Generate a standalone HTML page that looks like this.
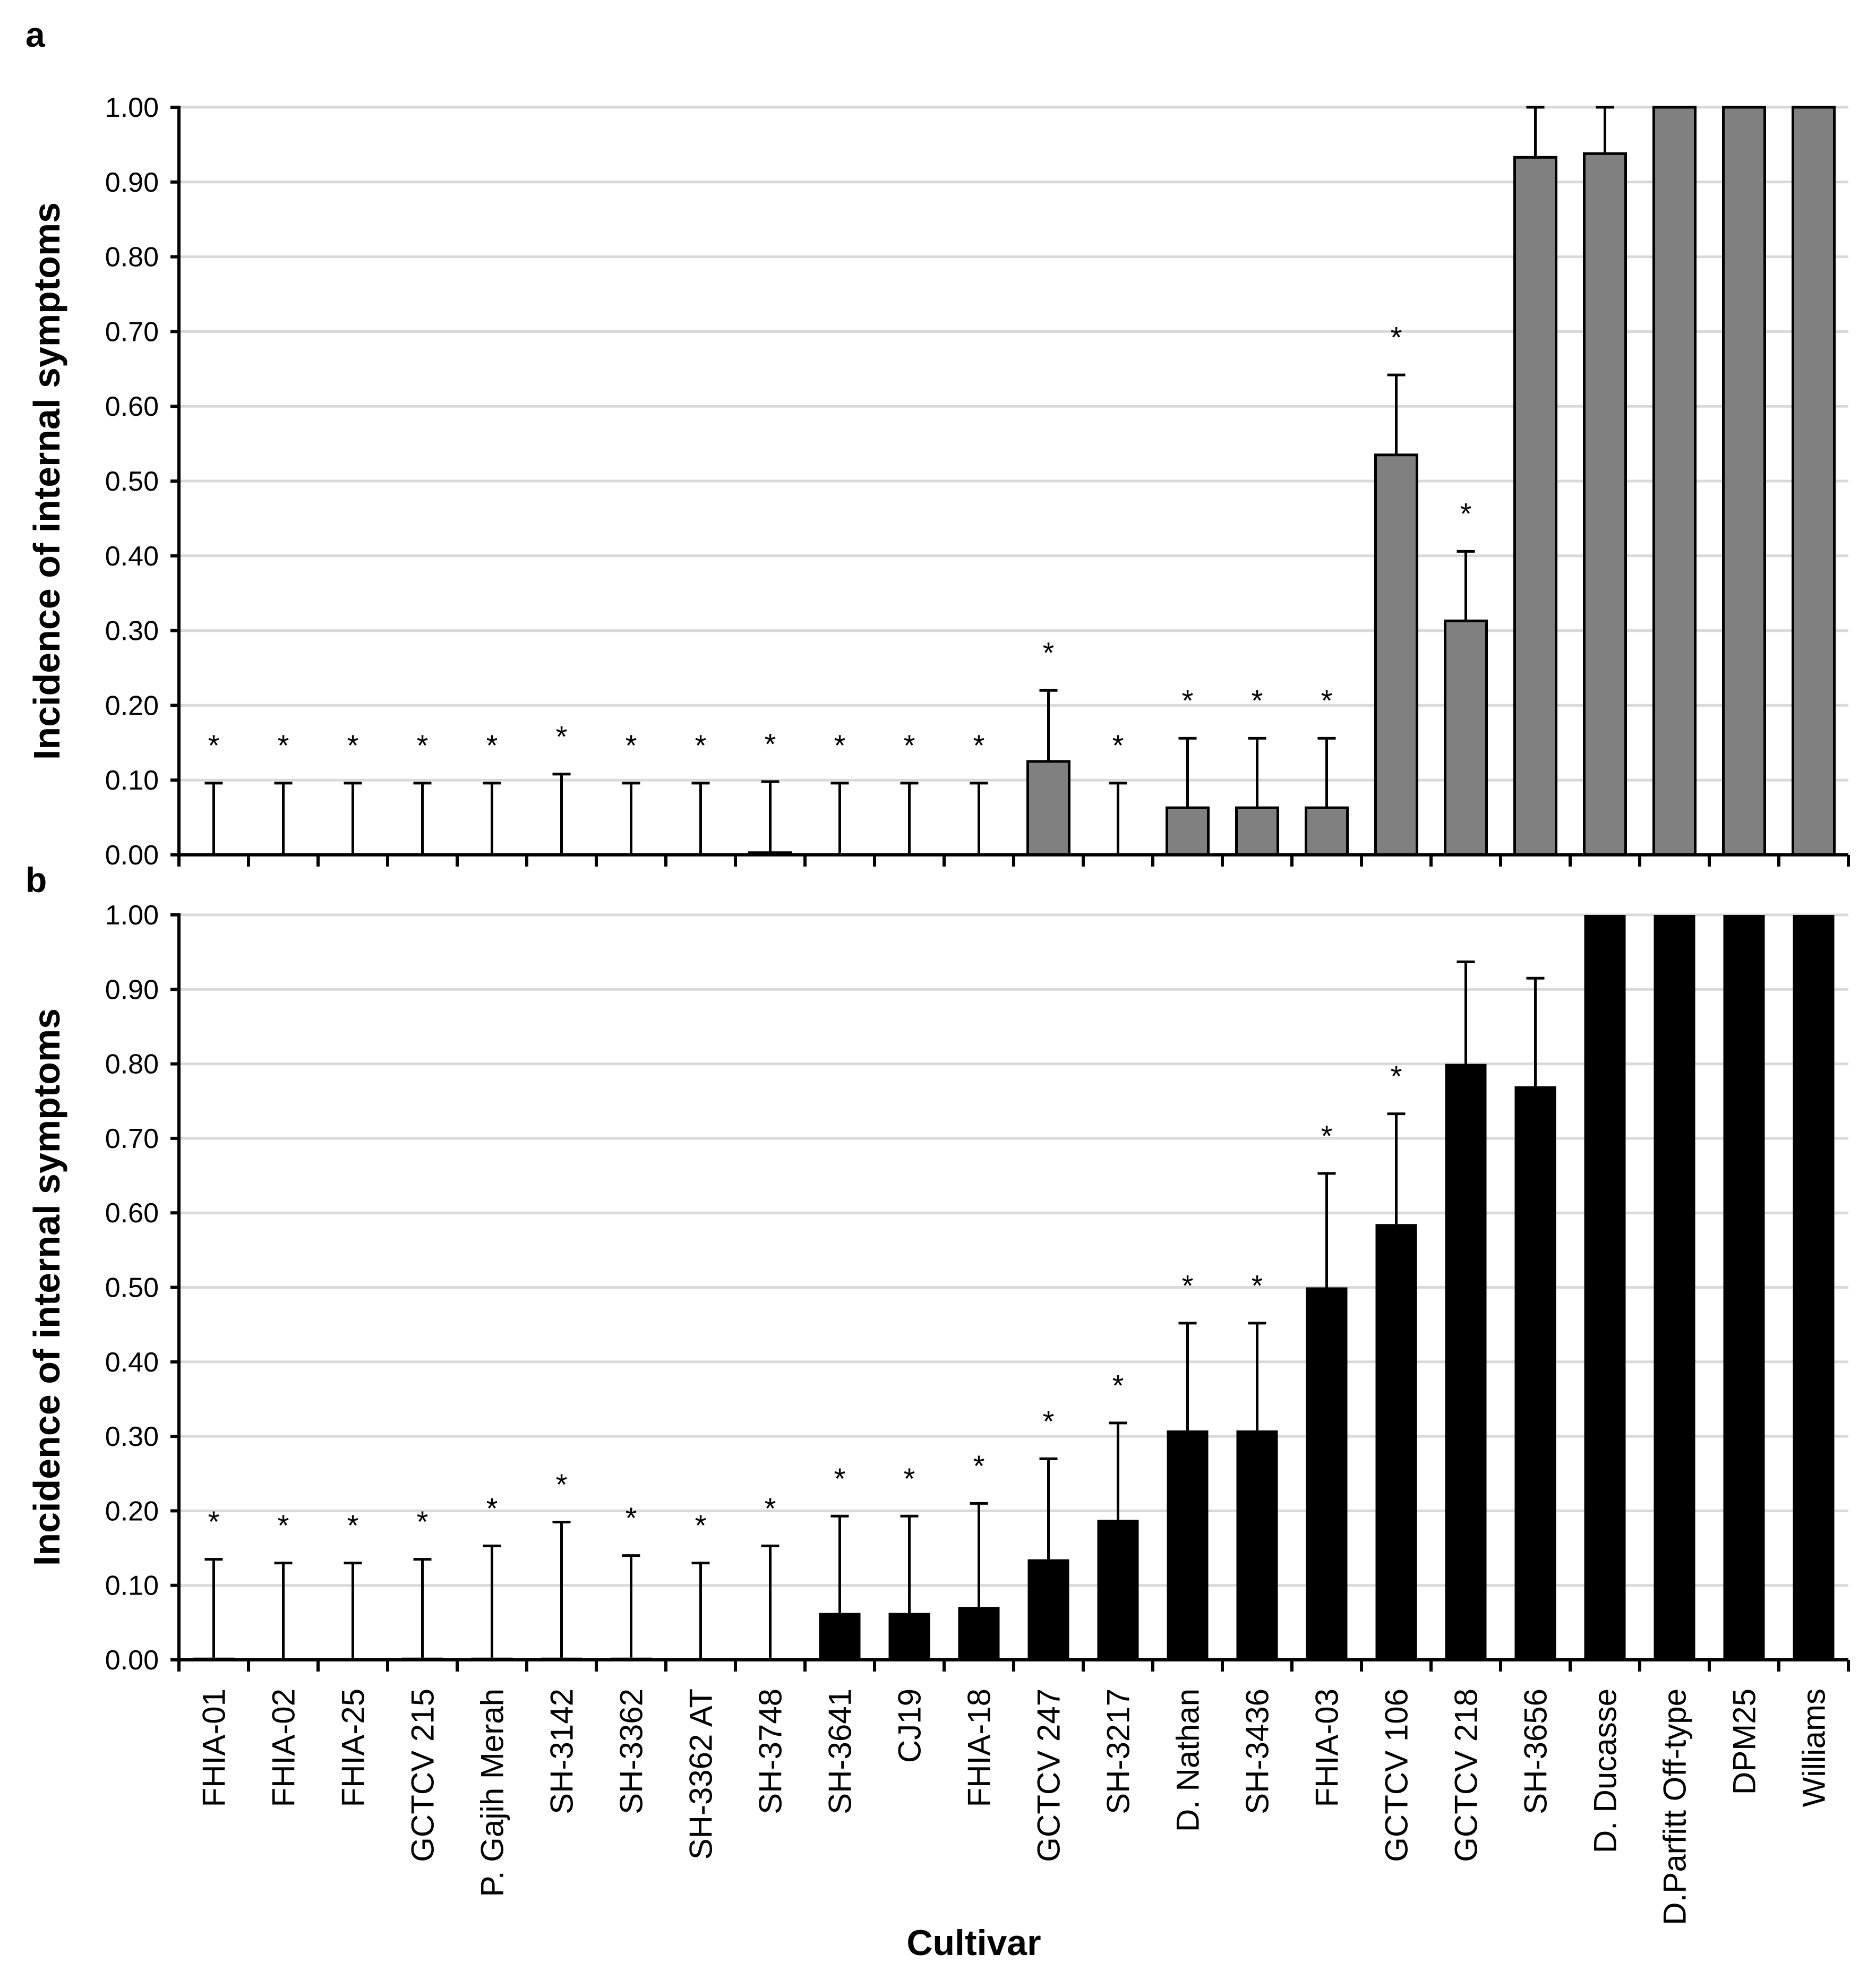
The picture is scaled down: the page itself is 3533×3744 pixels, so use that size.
<!DOCTYPE html>
<html><head><meta charset="utf-8"><style>
html,body{margin:0;padding:0;background:#fff}
svg{display:block}
text{font-family:"Liberation Sans",sans-serif}
</style></head><body>
<svg id="fig" width="3533" height="3744" viewBox="0 0 3533 3744" xmlns="http://www.w3.org/2000/svg">
<text x="48" y="88" font-size="66" font-weight="bold">a</text>
<text x="48" y="1680" font-size="66" font-weight="bold">b</text>
<text x="1834" y="3682" font-size="68" font-weight="bold" text-anchor="middle">Cultivar</text>
<g id="pa"></g>
<g id="pb"></g>
</svg>
<script>
const categories = ["FHIA-01","FHIA-02","FHIA-25","GCTCV 215","P. Gajih Merah","SH-3142","SH-3362","SH-3362 AT","SH-3748","SH-3641","CJ19","FHIA-18","GCTCV 247","SH-3217","D. Nathan","SH-3436","FHIA-03","GCTCV 106","GCTCV 218","SH-3656","D. Ducasse","D.Parfitt Off-type","DPM25","Williams"];
const yTicks = ["0.00","0.10","0.20","0.30","0.40","0.50","0.60","0.70","0.80","0.90","1.00"];
const valuesA = [0,0,0,0,0,0,0,0,0.003,0,0,0,0.125,0,0.063,0.063,0.063,0.535,0.313,0.933,0.938,1,1,1];
const errTopA = [0.096,0.096,0.096,0.096,0.096,0.108,0.096,0.096,0.098,0.096,0.096,0.096,0.22,0.096,0.156,0.156,0.156,0.642,0.406,1.0,1.0,null,null,null];
const starA = [1,1,1,1,1,1,1,1,1,1,1,1,1,1,1,1,1,1,1,0,0,0,0,0];
const valuesB = [0.003,0,0,0.003,0.003,0.003,0.003,0,0,0.063,0.063,0.071,0.135,0.188,0.308,0.308,0.5,0.585,0.8,0.77,1,1,1,1];
const errTopB = [0.135,0.13,0.13,0.135,0.153,0.185,0.14,0.13,0.153,0.193,0.193,0.21,0.27,0.318,0.452,0.452,0.653,0.733,0.937,0.915,null,null,null,null];
const starB = [1,1,1,1,1,1,1,1,1,1,1,1,1,1,1,1,1,1,0,0,0,0,0,0];

const NS="http://www.w3.org/2000/svg";
const X0=337, X1=3481;
const step=(X1-X0)/categories.length;
function xCenter(i){return X0+step*(i+0.5);}
function mk(p,tag,attrs){const e=document.createElementNS(NS,tag);for(const k in attrs)e.setAttribute(k,attrs[k]);p.appendChild(e);return e;}

function panel(gid, y0, y1, vals, errs, stars, fill, title, showLabels, titleY){
  const g=document.getElementById(gid);
  const yS=v=>y0-(v)*(y0-y1);
  yTicks.forEach((t)=>{
    const v=parseFloat(t);
    if(v>0){const gl=mk(g,'line',{x1:X0,x2:X1,y1:yS(v),y2:yS(v),stroke:'#d9d9d9','stroke-width':5});
    
    }
    const tk=mk(g,'line',{x1:X0-16,x2:X0,y1:yS(v),y2:yS(v),stroke:'#000','stroke-width':6});
    
    
    const tl=mk(g,'text',{x:X0-38,y:yS(v)+18,'font-size':52,'text-anchor':'end'});
    tl.textContent=t;
    
    
  });
  const bw=78;
  vals.forEach((v,i)=>{
    const cx=xCenter(i);
    if(v>0){
      const h=Math.max(y0-yS(v),1);
      const b=mk(g,'rect',{x:cx-bw/2,y:yS(v),width:bw,height:h,fill:fill,stroke:'#000','stroke-width':fill==='#000'?0:5});
      
      
    }
    if(errs[i]!==null){
      const e=mk(g,'path',{d:`M${cx} ${yS(v)} V${yS(errs[i])} M${cx-17} ${yS(errs[i])} H${cx+17}`,stroke:'#000','stroke-width':5,fill:'none'});
      
      
    }
    if(stars[i]){
      const s=mk(g,'text',{x:cx,y:yS(errs[i]+0.058)+30,'font-size':56,'text-anchor':'middle'});
      s.textContent='*';
      
      
    }
  });
  const ax=mk(g,'path',{d:`M${X0} ${y1-3} V${y0} H${X1}`,stroke:'#000','stroke-width':6,fill:'none'});
  
  
  for(let i=0;i<=categories.length;i++){
    const x=X0+step*i;
    const t=mk(g,'line',{x1:x,x2:x,y1:y0,y2:y0+22,stroke:'#000','stroke-width':6});
    
    
  }
  if(showLabels){
    categories.forEach((c,i)=>{
      const cx=xCenter(i);
      const t=mk(g,'text',{x:0,y:0,'font-size':60,'text-anchor':'end',transform:`translate(${cx+21},${y0+54}) rotate(-90)`});
      t.textContent=c;
      
      
    });
  }
  const yt=mk(g,'text',{x:0,y:0,'font-size':70,'font-weight':'bold','text-anchor':'middle',transform:`translate(112,${titleY}) rotate(-90)`});
  yt.textContent=title;
  
  
}
panel('pa',1610,202,valuesA,errTopA,starA,'#808080','Incidence of internal symptoms',false,906);
panel('pb',3126,1723,valuesB,errTopB,starB,'#000','Incidence of internal symptoms',true,2424);
</script>
</body></html>
